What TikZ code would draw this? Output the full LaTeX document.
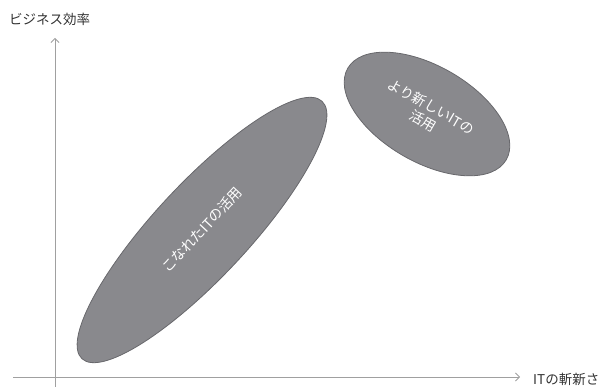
\documentclass[tikz,border=0pt]{standalone}
\usepackage{fontspec}
\setmainfont{Noto Sans CJK JP}
\usetikzlibrary{shapes.geometric,arrows.meta}

\definecolor{blobfill}{RGB}{137,137,141}
\definecolor{blobline}{RGB}{104,104,108}
\definecolor{axisgray}{RGB}{160,160,160}
\definecolor{labelgray}{RGB}{51,51,51}

\tikzset{
  blob/.style={ellipse,fill=blobfill,draw=blobline,line width=0.8pt,inner sep=0pt,
    text=white,font=\fontsize{14}{17}\selectfont,align=center},
  axisline/.style={draw=axisgray,line width=0.8pt,-{Straight Barb[length=4pt,width=8pt]}},
  axislabel/.style={text=labelgray,font=\fontsize{13.5}{16}\selectfont,inner sep=0pt}
}

\begin{document}
\begin{tikzpicture}[x=1pt,y=-1pt]
\useasboundingbox (0,0) rectangle (609,387);
% axes
\coordinate (o1) at (13,377);
\coordinate (xend) at (520,377);
\coordinate (o2) at (55,387);
\coordinate (yend) at (55,38);
\draw[axisline] (o1) -- (xend);
\draw[axisline] (o2) -- (yend);
\node[axislabel,anchor=west] (ylab) at (9,19) {ビジネス効率};
\node[axislabel,anchor=west] (xlab) at (533,379) {ITの斬新さ};
% blobs
\node[blob,minimum width=352pt,minimum height=94pt,rotate=47] (used) at (202,230) {こなれたITの活用};
\node[blob,minimum width=183pt,minimum height=96pt,rotate=-30] (newit) at (427,114) {より新しいITの\\活用};
\end{tikzpicture}
\end{document}
